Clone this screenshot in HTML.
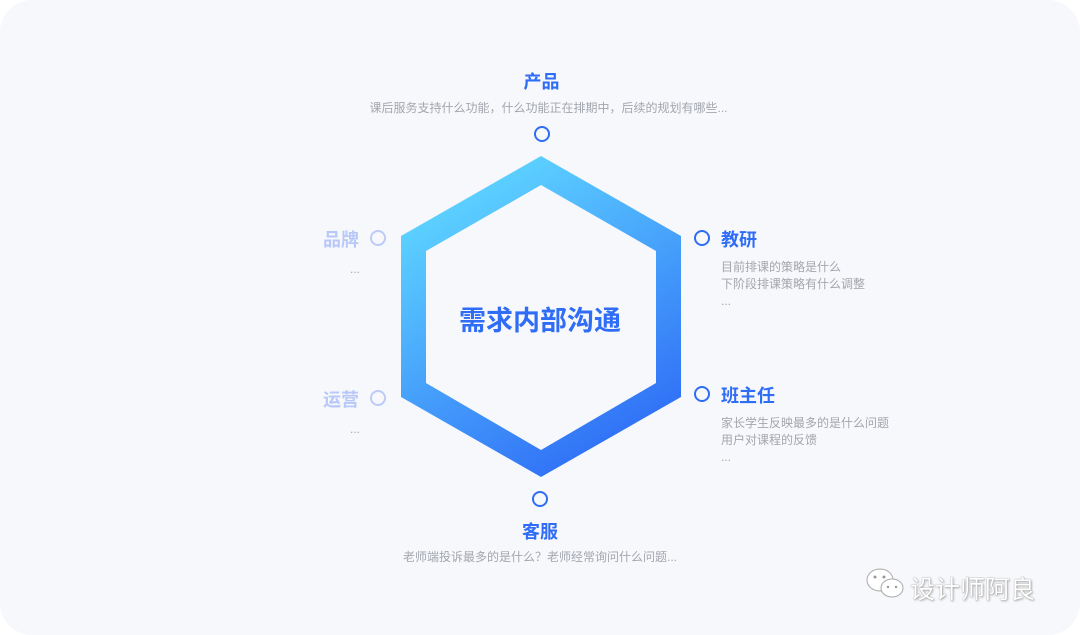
<!DOCTYPE html>
<html><head><meta charset="utf-8"><style>
html,body{margin:0;padding:0;background:#fff;}
.card{position:absolute;left:0;top:0;width:1080px;height:635px;background:#f7f8fc;border-radius:32px;overflow:hidden;font-family:"Liberation Sans","Noto Sans CJK SC",sans-serif;}
.t{position:absolute;white-space:nowrap;}
.h{font-size:18px;font-weight:bold;color:#2f6df6;}
.hl{font-size:18px;font-weight:bold;color:#b8c8f8;}
.s{font-size:12px;color:#a3a6ad;line-height:17px;}
.c{position:absolute;width:12px;height:12px;border:2.5px solid #2f6df6;border-radius:50%;}
.cl{border-color:#bccbf8;}
</style></head><body><div class="card">
<svg width="1080" height="635" style="position:absolute;left:0;top:0">
<defs><linearGradient id="g" x1="0.3" y1="0.1" x2="0.75" y2="0.95"><stop offset="0" stop-color="#5bcfff"/><stop offset="1" stop-color="#2f6df6"/></linearGradient></defs>
<path fill="url(#g)" fill-rule="evenodd" d="M541 156 L681 236 L681 397 L541 477 L401 397 L401 236 Z M541 185 L656 251 L656 383 L541 450 L426 383 L426 251 Z"/>
<g fill="#fff" stroke="#aaa" stroke-width="1">
<ellipse cx="880" cy="580" rx="13" ry="11"/>
<ellipse cx="892" cy="588" rx="11" ry="9"/>
</g>
<g fill="#999"><circle cx="875" cy="577" r="1.5"/><circle cx="884" cy="577" r="1.5"/><circle cx="888" cy="587" r="1.2"/><circle cx="896" cy="587" r="1.2"/></g>
</svg>
<div class="t" style="left:0;width:1080px;top:299px;text-align:center;font-size:27px;font-weight:bold;color:#2f6df6;">需求内部沟通</div>
<div class="t h" style="left:0;width:1083px;text-align:center;top:68px">产品</div>
<div class="t s" style="left:0;width:1097px;text-align:center;top:100px">课后服务支持什么功能，什么功能正在排期中，后续的规划有哪些...</div>
<div class="c" style="left:534px;top:126px"></div>
<div class="c cl" style="left:370px;top:230px"></div>
<div class="t hl" style="left:323px;top:226px">品牌</div>
<div class="t s" style="left:350px;top:261px">...</div>
<div class="c cl" style="left:370px;top:390px"></div>
<div class="t hl" style="left:323px;top:386px">运营</div>
<div class="t s" style="left:350px;top:421px">...</div>
<div class="c" style="left:694px;top:230px"></div>
<div class="t h" style="left:721px;top:226px">教研</div>
<div class="t s" style="left:721px;top:259px">目前排课的策略是什么<br>下阶段排课策略有什么调整<br>...</div>
<div class="c" style="left:694px;top:386px"></div>
<div class="t h" style="left:721px;top:382px">班主任</div>
<div class="t s" style="left:721px;top:415px">家长学生反映最多的是什么问题<br>用户对课程的反馈<br>...</div>
<div class="c" style="left:532px;top:491px"></div>
<div class="t h" style="left:0;width:1080px;text-align:center;top:518px">客服</div>
<div class="t s" style="left:0;width:1080px;text-align:center;top:549px">老师端投诉最多的是什么？老师经常询问什么问题...</div>
<div class="t" style="left:910px;top:570px;font-size:25px;color:#fff;text-shadow:0 0 1px #777,1px 1px 2px #aaa">设计师阿良</div>
</div></body></html>
